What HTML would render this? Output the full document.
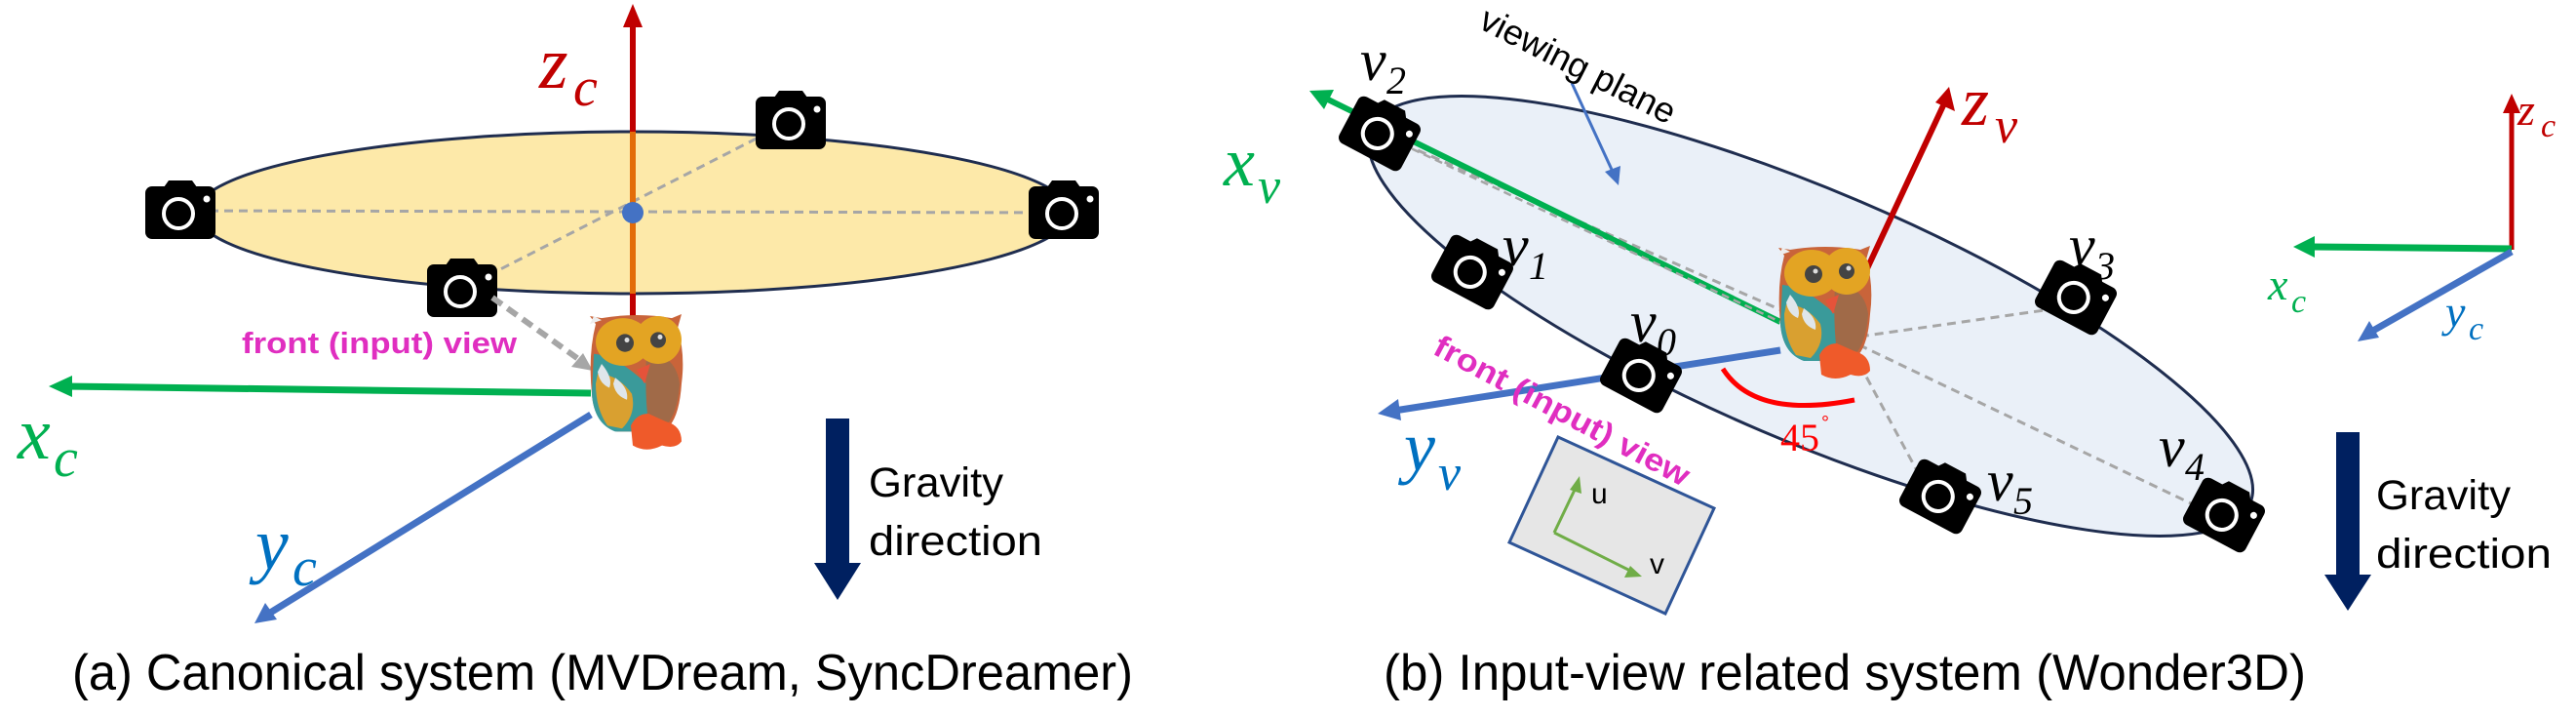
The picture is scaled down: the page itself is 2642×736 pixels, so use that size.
<!DOCTYPE html>
<html><head><meta charset="utf-8"><style>
html,body{margin:0;padding:0;background:#fff;}
svg{display:block;}
.m{font-family:"Liberation Serif",serif;font-style:italic;}
.s{font-family:"Liberation Sans",sans-serif;}
</style></head><body>
<svg width="2642" height="736" viewBox="0 0 2642 736" xmlns="http://www.w3.org/2000/svg">
<defs>
<g id="cam">
  <path d="M-17,-26 L-12,-33 L12,-33 L17,-26 Z" fill="#000"/>
  <rect x="-36" y="-27" width="72" height="54" rx="7" fill="#000"/>
  <circle cx="-2" cy="1" r="15" fill="#000" stroke="#fff" stroke-width="4"/>
  <circle cx="27" cy="-14" r="3.5" fill="#fff"/>
</g>
<g id="owl">
  <path d="M8,10 L2,2 L14,4 Q50,-2 86,4 L96,0 L92,14 Q100,40 96,70 Q94,100 84,112 L70,118 L30,118 Q6,110 4,80 Q0,40 8,10 Z" fill="#c9643a"/>
  <path d="M6,40 Q30,42 60,70 Q70,100 50,118 L28,118 Q6,110 4,80 Z" fill="#3a9a9a"/>
  <path d="M10,60 Q30,60 45,80 Q50,100 35,115 L20,112 Q8,95 8,70Z" fill="#d9a030"/>
  <path d="M14,50 Q26,64 22,74 Q12,70 10,58Z" fill="#dfe6ea"/>
  <path d="M28,64 Q42,74 40,86 Q28,82 26,70Z" fill="#dfe6ea"/>
  <path d="M60,40 Q90,40 94,70 Q92,100 80,112 L62,110 Q58,80 60,40Z" fill="#a06a48"/>
  <ellipse cx="36" cy="28" rx="28" ry="24" fill="#e3a423"/>
  <ellipse cx="72" cy="26" rx="24" ry="24" fill="#e3a423"/>
  <circle cx="38" cy="29" r="9" fill="#444"/>
  <circle cx="72" cy="26" r="8" fill="#444"/>
  <circle cx="40" cy="26" r="2.5" fill="#ddd"/>
  <circle cx="74" cy="23" r="2.5" fill="#ddd"/>
  <path d="M50,56 L64,50 L58,70Z" fill="#e5533a"/>
  <path d="M44,112 Q50,100 62,100 L80,108 Q96,112 96,128 Q90,136 76,132 Q60,140 46,132Z" fill="#ef5a2a"/>
  <path d="M2,10 L6,2 L14,6Z" fill="#eee"/>
</g>
</defs>

<!-- ===== LEFT PANEL ===== -->
<ellipse cx="649" cy="218" rx="448" ry="83" fill="#fde9a9" stroke="#1f2d4f" stroke-width="3"/>
<line x1="185" y1="216" x2="1091" y2="218" stroke="#a6a6a6" stroke-width="3" stroke-dasharray="9,6"/>
<line x1="474" y1="296" x2="811" y2="124" stroke="#a6a6a6" stroke-width="3" stroke-dasharray="9,6"/>
<line x1="649" y1="14" x2="649" y2="135" stroke="#c00000" stroke-width="6"/>
<line x1="649" y1="135" x2="649" y2="301" stroke="#e36c09" stroke-width="6"/>
<line x1="649" y1="301" x2="649" y2="330" stroke="#c00000" stroke-width="6"/>
<path d="M649,4 L639,28 L659,28Z" fill="#c00000"/>
<circle cx="649" cy="218" r="11" fill="#4472c4"/>
<use href="#cam" x="185" y="218"/>
<use href="#cam" x="811" y="126"/>
<use href="#cam" x="1091" y="218"/>
<use href="#cam" x="474" y="298"/>
<line x1="505" y1="305" x2="596" y2="370" stroke="#a6a6a6" stroke-width="6" stroke-dasharray="12,7"/>
<path d="M608,380 L586,376 L598,362Z" fill="#a6a6a6"/>
<line x1="606" y1="403" x2="66" y2="396" stroke="#00b050" stroke-width="7"/>
<path d="M50,396 L74,385 L74,407Z" fill="#00b050"/>
<line x1="606" y1="425" x2="274" y2="630" stroke="#4472c4" stroke-width="7"/>
<path d="M261,639 L272,618 L284,635Z" fill="#4472c4"/>
<use href="#owl" transform="translate(603,322) scale(1.0,1.02)"/>
<text x="248" y="362" font-size="31" fill="#e02ec0" class="s" font-weight="bold" textLength="282" lengthAdjust="spacingAndGlyphs">front (input) view</text>
<text x="553" y="90" font-size="76" fill="#c00000" class="m">z</text><text x="588" y="108" font-size="56" fill="#c00000" class="m">c</text>
<text x="18" y="470" font-size="76" fill="#00b050" class="m">x</text><text x="55" y="488" font-size="56" fill="#00b050" class="m">c</text>
<text x="262" y="583" font-size="76" fill="#0070c0" class="m">y</text><text x="300" y="600" font-size="56" fill="#0070c0" class="m">c</text>
<rect x="847" y="429" width="24" height="148" fill="#002060"/>
<path d="M835,577 L883,577 L859,615Z" fill="#002060"/>
<text x="891" y="509" font-size="43" class="s" textLength="138" lengthAdjust="spacingAndGlyphs">Gravity</text>
<text x="891" y="569" font-size="43" class="s" textLength="178" lengthAdjust="spacingAndGlyphs">direction</text>
<text x="74" y="707" font-size="52" class="s" textLength="1088" lengthAdjust="spacingAndGlyphs">(a)   Canonical system (MVDream, SyncDreamer)</text>

<!-- ===== RIGHT PANEL ===== -->
<ellipse cx="0" cy="0" rx="490" ry="128" transform="translate(1857,324) rotate(23.1)" fill="#eaf0f8" stroke="#1f2d4f" stroke-width="3"/>
<line x1="1413" y1="136" x2="1893" y2="347" stroke="#a6a6a6" stroke-width="3" stroke-dasharray="9,6"/>
<line x1="1893" y1="347" x2="2104" y2="317" stroke="#a6a6a6" stroke-width="3" stroke-dasharray="9,6"/>
<line x1="1893" y1="347" x2="1969" y2="488" stroke="#a6a6a6" stroke-width="3" stroke-dasharray="9,6"/>
<line x1="1893" y1="347" x2="2247" y2="516" stroke="#a6a6a6" stroke-width="3" stroke-dasharray="9,6"/>
<line x1="1826" y1="330" x2="1360" y2="101" stroke="#00b050" stroke-width="6"/>
<path d="M1343,93 L1368,92 L1358,112Z" fill="#00b050"/>
<line x1="1413" y1="136" x2="1826" y2="330" stroke="#a6a6a6" stroke-width="2.5" stroke-dasharray="8,5"/>
<line x1="1910" y1="286" x2="1995" y2="104" stroke="#c00000" stroke-width="6"/>
<path d="M1999,89 L2005,114 L1985,105Z" fill="#c00000"/>
<line x1="1826" y1="359" x2="1430" y2="421" stroke="#4472c4" stroke-width="7"/>
<path d="M1413,424 L1434,409 L1437,431Z" fill="#4472c4"/>
<path d="M1767,378 Q1800,430 1902,410" fill="none" stroke="#ff0000" stroke-width="5"/>
<use href="#cam" transform="translate(1415,137) rotate(28)"/>
<use href="#cam" transform="translate(1510,279) rotate(28)"/>
<use href="#cam" transform="translate(1683,385) rotate(28)"/>
<use href="#cam" transform="translate(2129,305) rotate(28)"/>
<use href="#cam" transform="translate(1990,509) rotate(28)"/>
<use href="#cam" transform="translate(2281,528) rotate(28)"/>
<use href="#owl" transform="translate(1822,252) scale(1.0,1.0)"/>
<line x1="1612" y1="85" x2="1654" y2="176" stroke="#4472c4" stroke-width="3"/>
<path d="M1660,190 L1646,176 L1662,170Z" fill="#4472c4"/>
<text class="s" font-size="36" transform="translate(1515,28) rotate(27)" textLength="220" lengthAdjust="spacingAndGlyphs">viewing plane</text>
<text class="s" font-size="32" font-weight="bold" fill="#e02ec0" transform="translate(1468,362) rotate(28)" textLength="292" lengthAdjust="spacingAndGlyphs">front (input) view</text>
<text x="1826" y="462" font-size="40" fill="#ff0000" font-family="Liberation Serif,serif">45</text><text x="1868" y="440" font-size="20" fill="#ff0000" font-family="Liberation Sans,sans-serif">°</text>
<text class="m" font-size="60" x="1395" y="82">v</text><text class="m" font-size="40" x="1422" y="96">2</text>
<text class="m" font-size="60" x="1541" y="272">v</text><text class="m" font-size="40" x="1568" y="286">1</text>
<text class="m" font-size="60" x="1672" y="350">v</text><text class="m" font-size="40" x="1699" y="364">0</text>
<text class="m" font-size="60" x="2122" y="272">v</text><text class="m" font-size="40" x="2149" y="286">3</text>
<text class="m" font-size="60" x="2214" y="478">v</text><text class="m" font-size="40" x="2241" y="492">4</text>
<text class="m" font-size="60" x="2038" y="513">v</text><text class="m" font-size="40" x="2065" y="527">5</text>
<text x="2012" y="128" font-size="72" fill="#c00000" class="m">z</text><text x="2046" y="146" font-size="52" fill="#c00000" class="m">v</text>
<text x="1255" y="190" font-size="72" fill="#00b050" class="m">x</text><text x="1290" y="208" font-size="52" fill="#00b050" class="m">v</text>
<text x="1440" y="482" font-size="72" fill="#0070c0" class="m">y</text><text x="1475" y="502" font-size="52" fill="#0070c0" class="m">v</text>
<!-- uv box -->
<path d="M1598,448 L1758,521 L1708,629 L1548,556Z" fill="#e6e6e6" stroke="#2f5597" stroke-width="3"/>
<line x1="1594" y1="546" x2="1616" y2="500" stroke="#70ad47" stroke-width="3"/>
<path d="M1620,488 L1622,506 L1610,502Z" fill="#70ad47"/>
<line x1="1594" y1="546" x2="1672" y2="585" stroke="#70ad47" stroke-width="3"/>
<path d="M1684,591 L1666,592 L1672,580Z" fill="#70ad47"/>
<text x="1632" y="516" font-size="30" class="s">u</text>
<text x="1692" y="588" font-size="30" class="s">v</text>
<!-- small axes -->
<line x1="2576" y1="256" x2="2576" y2="112" stroke="#c00000" stroke-width="5"/>
<path d="M2576,96 L2567,116 L2585,116Z" fill="#c00000"/>
<line x1="2576" y1="255" x2="2370" y2="253" stroke="#00b050" stroke-width="7"/>
<path d="M2352,253 L2374,242 L2374,264Z" fill="#00b050"/>
<line x1="2576" y1="258" x2="2432" y2="340" stroke="#4472c4" stroke-width="7"/>
<path d="M2418,350 L2430,329 L2440,346Z" fill="#4472c4"/>
<text x="2582" y="128" font-size="46" fill="#c00000" class="m">z</text><text x="2606" y="140" font-size="34" fill="#c00000" class="m">c</text>
<text x="2326" y="307" font-size="46" fill="#00b050" class="m">x</text><text x="2350" y="320" font-size="34" fill="#00b050" class="m">c</text>
<text x="2508" y="335" font-size="46" fill="#0070c0" class="m">y</text><text x="2532" y="348" font-size="34" fill="#0070c0" class="m">c</text>
<rect x="2396" y="443" width="24" height="146" fill="#002060"/>
<path d="M2384,589 L2432,589 L2408,626Z" fill="#002060"/>
<text x="2437" y="522" font-size="43" class="s" textLength="138" lengthAdjust="spacingAndGlyphs">Gravity</text>
<text x="2437" y="582" font-size="43" class="s" textLength="180" lengthAdjust="spacingAndGlyphs">direction</text>
<text x="1419" y="707" font-size="52" class="s" textLength="946" lengthAdjust="spacingAndGlyphs">(b) Input-view related system (Wonder3D)</text>
</svg>
</body></html>
